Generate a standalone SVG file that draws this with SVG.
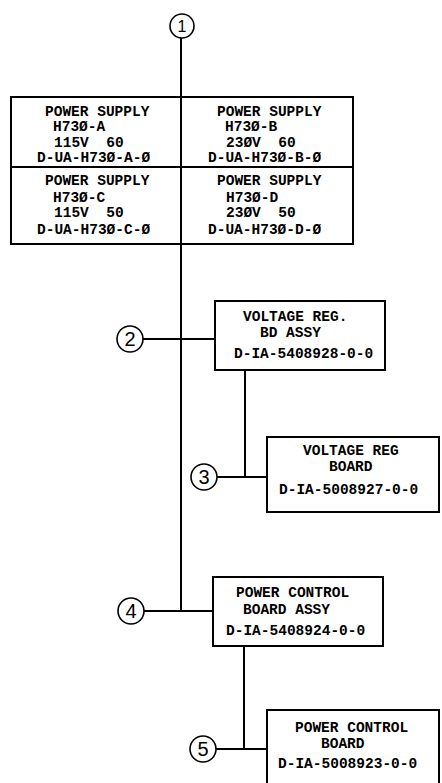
<svg xmlns="http://www.w3.org/2000/svg" width="442" height="783" viewBox="0 0 442 783">
<style>
.box{fill:#fff;stroke:#000;stroke-width:2}
.ln{stroke:#000;stroke-width:2;fill:none}
.cir{fill:#fff;stroke:#000;stroke-width:1.6}
.t{font-family:"Liberation Mono","DejaVu Sans Mono",monospace;font-size:14.5px;font-weight:bold;fill:#000;white-space:pre}
.n{font-family:"Liberation Sans",Arial,sans-serif;font-size:20px;fill:#000;text-anchor:middle}
</style>
<rect width="442" height="783" fill="#fff"/>
<g id="connectors">
<line class="ln" x1="181" y1="38" x2="181" y2="612"/>
<line class="ln" x1="143" y1="339" x2="215" y2="339"/>
<line class="ln" x1="245" y1="370" x2="245" y2="478"/>
<line class="ln" x1="217" y1="477" x2="267" y2="477"/>
<line class="ln" x1="144" y1="611" x2="213" y2="611"/>
<line class="ln" x1="244" y1="646" x2="244" y2="750"/>
<line class="ln" x1="216" y1="749" x2="267" y2="749"/>
</g>
<g id="callout1"><circle class="cir" cx="182" cy="26" r="12"/><text class="n" x="182" y="32" style="font-size:16px">1</text></g>
<g id="powersupply">
<rect class="box" x="11" y="97" width="342" height="147"/>
<line class="ln" x1="11" y1="167" x2="353" y2="167"/>
<line class="ln" x1="181" y1="97" x2="181" y2="244"/>
<text class="t" x="45" y="116">POWER SUPPLY</text>
<text class="t" x="53" y="131">H73Ø-A</text>
<text class="t" x="54" y="147" xml:space="preserve">115V  60</text>
<text class="t" x="37" y="162">D-UA-H73Ø-A-Ø</text>
<text class="t" x="217" y="116">POWER SUPPLY</text>
<text class="t" x="225" y="131">H73Ø-B</text>
<text class="t" x="226" y="147" xml:space="preserve">23ØV  60</text>
<text class="t" x="208" y="162">D-UA-H73Ø-B-Ø</text>
<text class="t" x="45" y="185">POWER SUPPLY</text>
<text class="t" x="53" y="202">H73Ø-C</text>
<text class="t" x="54" y="217" xml:space="preserve">115V  50</text>
<text class="t" x="37" y="234">D-UA-H73Ø-C-Ø</text>
<text class="t" x="217" y="185">POWER SUPPLY</text>
<text class="t" x="226" y="202">H73Ø-D</text>
<text class="t" x="226" y="217" xml:space="preserve">23ØV  50</text>
<text class="t" x="208" y="234">D-UA-H73Ø-D-Ø</text>
</g>
<g id="callout2"><circle class="cir" cx="130" cy="339" r="13"/><text class="n" x="130" y="346">2</text></g>
<g id="vrbdassy">
<rect class="box" x="215" y="301" width="170" height="69"/>
<text class="t" x="243" y="321">VOLTAGE REG.</text>
<text class="t" x="260" y="337">BD ASSY</text>
<text class="t" x="234" y="358">D-IA-5408928-0-0</text>
</g>
<g id="callout3"><circle class="cir" cx="204" cy="477" r="13"/><text class="n" x="204" y="484">3</text></g>
<g id="vrboard">
<rect class="box" x="267" y="437" width="172" height="75"/>
<text class="t" x="303" y="455">VOLTAGE REG</text>
<text class="t" x="329" y="471">BOARD</text>
<text class="t" x="279" y="494">D-IA-5008927-0-0</text>
</g>
<g id="callout4"><circle class="cir" cx="131" cy="611" r="13"/><text class="n" x="131" y="618">4</text></g>
<g id="pcbassy">
<rect class="box" x="213" y="577" width="170" height="69"/>
<text class="t" x="236" y="597">POWER CONTROL</text>
<text class="t" x="243" y="614">BOARD ASSY</text>
<text class="t" x="226" y="635">D-IA-5408924-0-0</text>
</g>
<g id="callout5"><circle class="cir" cx="203" cy="749" r="13"/><text class="n" x="203" y="756">5</text></g>
<g id="pcboard">
<rect class="box" x="267" y="710" width="172" height="80"/>
<text class="t" x="295" y="732">POWER CONTROL</text>
<text class="t" x="321" y="748">BOARD</text>
<text class="t" x="278" y="768">D-IA-5008923-0-0</text>
</g>
</svg>
